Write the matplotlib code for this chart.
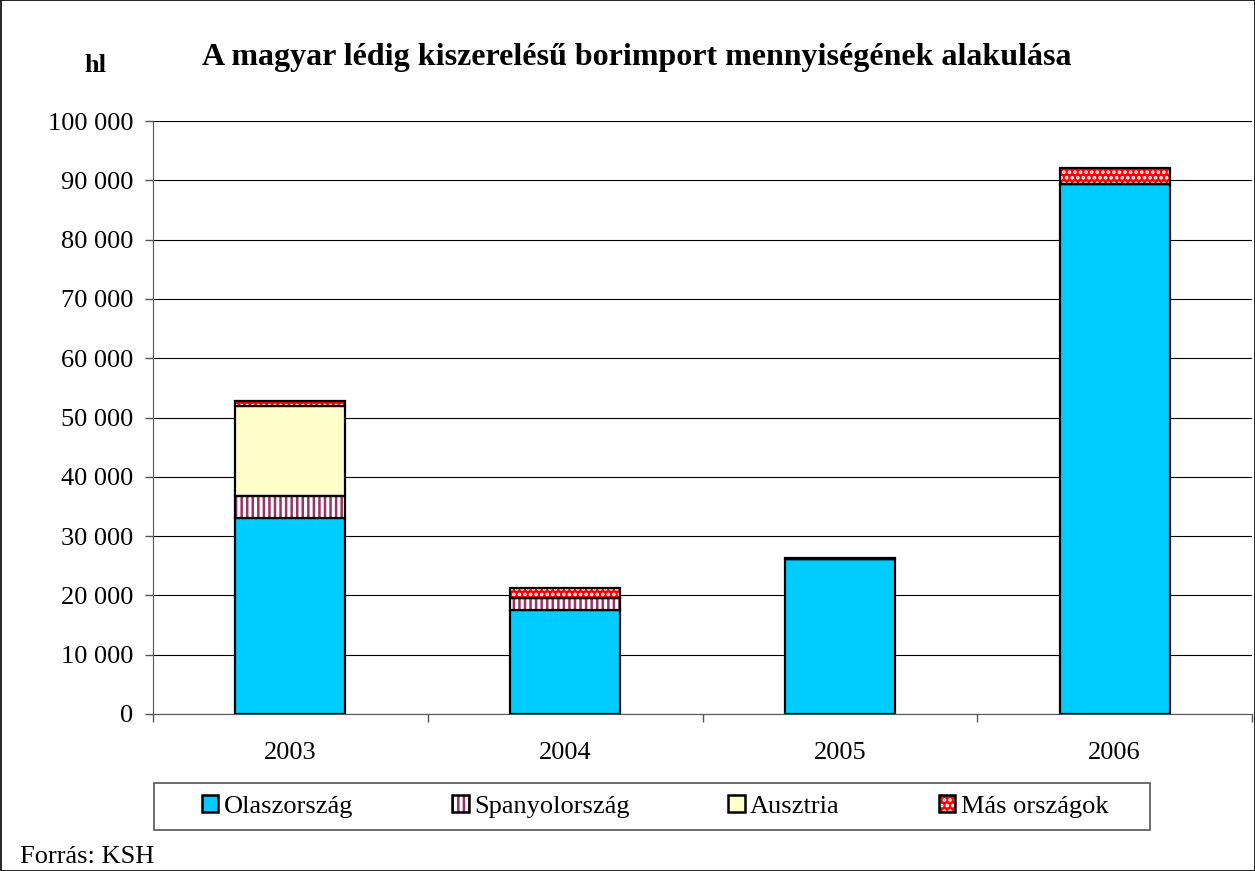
import matplotlib
matplotlib.use("Agg")
import matplotlib.pyplot as plt
from matplotlib.patches import Rectangle, Patch
from matplotlib.legend_handler import HandlerTuple
import matplotlib.ticker as mticker
import numpy as np

plt.rcParams['font.family'] = ['Liberation Serif', 'DejaVu Serif']

years = ["2003", "2004", "2005", "2006"]
series_names = ["Olaszország", "Spanyolország", "Ausztria", "Más országok"]
olasz = [33000, 17500, 26100, 89400]
spanyol = [3700, 2100, 0, 0]
ausztria = [15200, 0, 0, 0]
mas = [900, 1600, 200, 2600]
series = [olasz, spanyol, ausztria, mas]

styles = [
    dict(face="#00CCFF", hatch=None, hcol=None),
    dict(face="white", hatch="|||", hcol="#993366"),
    dict(face="#FFFFCC", hatch=None, hcol=None),
    dict(face="#FF0000", hatch="...", hcol="white"),
]

plt.rcParams['hatch.linewidth'] = 1.8

fig = plt.figure(figsize=(12.55, 8.71), dpi=100)
ax = fig.add_axes([153/1255, 1-714/871, (1252-153)/1255, (714-121)/871])

x = np.arange(len(years))
width = 0.4
bottom = np.zeros(len(years))
for vals, st in zip(series, styles):
    vals = np.array(vals, dtype=float)
    if st["hatch"]:
        ax.bar(x, vals, width, bottom=bottom, color=st["face"], hatch=st["hatch"],
               edgecolor=st["hcol"], linewidth=0, zorder=3)
        ax.bar(x, vals, width, bottom=bottom, fill=False, edgecolor="black",
               linewidth=1.6, zorder=4)
    else:
        ax.bar(x, vals, width, bottom=bottom, color=st["face"], edgecolor="black",
               linewidth=1.6, zorder=3)
    bottom += vals

ax.set_xlim(-0.5, 3.5)
ax.set_ylim(0, 100000)
ax.set_yticks(np.arange(0, 100001, 10000))
ax.yaxis.set_major_formatter(mticker.FuncFormatter(lambda v, p: f"{int(v):,}".replace(",", " ")))
ax.set_xticks(x)
ax.set_xticklabels(years)
ax.set_xticks(np.arange(-0.5, 3.6, 1), minor=True)
ax.tick_params(axis='x', which='major', length=0, pad=20, labelsize=19)
ax.tick_params(axis='x', which='minor', length=6, width=1, direction='out', color='#555555')
ax.tick_params(axis='y', length=6, width=1, direction='out', labelsize=19, pad=8, color='#555555')
ax.grid(axis='y', color='black', linewidth=0.8, zorder=0)
ax.spines['top'].set_visible(False)
ax.spines['right'].set_visible(False)
ax.spines['left'].set_color('#555555')
ax.spines['bottom'].set_color('#555555')

fig.text(637/1255, 1-57/871, "A magyar lédig kiszerelésű borimport mennyiségének alakulása",
         ha='center', va='center', fontsize=23, fontweight='bold')
fig.text(95/1255, 1-65/871, "hl", ha='center', va='center', fontsize=19, fontweight='bold')
fig.text(20/1255, 1-857/871, "Forrás: KSH", ha='left', va='center', fontsize=19)

handles = []
for name, st in zip(series_names, styles):
    if st["hatch"]:
        h1 = Patch(facecolor=st["face"], edgecolor=st["hcol"], hatch=st["hatch"], linewidth=0)
        h2 = Patch(fill=False, edgecolor="black", linewidth=1.8)
        handles.append((h1, h2))
    else:
        handles.append(Patch(facecolor=st["face"], edgecolor="black", linewidth=1.8))
leg = fig.legend(handles=handles, labels=series_names, loc='center', ncol=4,
                 handler_map={tuple: HandlerTuple(ndivide=1, pad=0)},
                 bbox_to_anchor=(202/1255, 1-830/871, (1108-202)/1255, 47/871),
                 mode='expand', fontsize=19, frameon=False, borderpad=0, borderaxespad=0,
                 handlelength=0.62, handleheight=0.62, handletextpad=0.2)

fig.patches.append(Rectangle((154/1255, 1-830/871), (1150-154)/1255, 47/871, transform=fig.transFigure,
                             fill=False, edgecolor='#555555', linewidth=1.2))
fig.patches.append(Rectangle((0.5/1255, 0.5/871), 1-1/1255, 1-1/871, transform=fig.transFigure,
                             fill=False, edgecolor='black', linewidth=1.2))

fig.savefig("out.png", dpi=100)
